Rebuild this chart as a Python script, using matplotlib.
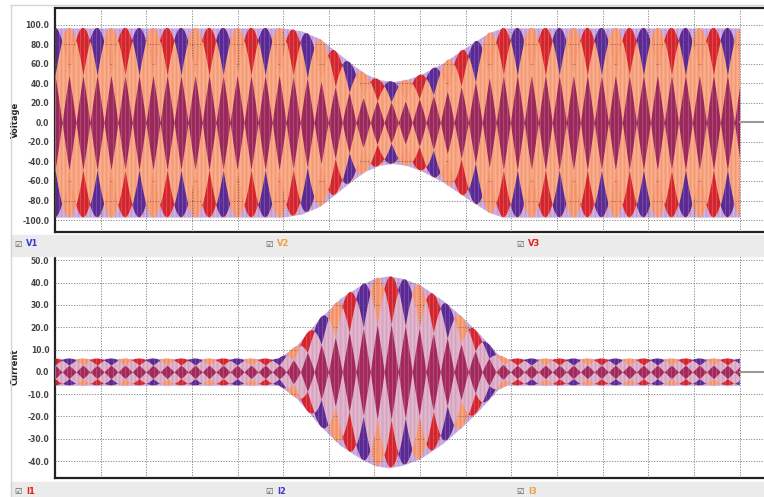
import numpy as np
import matplotlib
matplotlib.use("Agg")
import matplotlib.pyplot as plt
from matplotlib.patches import Rectangle
from matplotlib.lines import Line2D
from matplotlib.collections import LineCollection

# ---------------- data ----------------
# time axis in grid units (one dotted vertical grid line per unit)
t_end = 15.0
# voltage amplitude envelope (peak V) at read time points
v_env_t = [0.0, 5.0, 5.4, 5.8, 6.1, 6.5, 6.8, 7.1, 7.4, 7.7, 8.0, 8.5, 9.0, 9.5, 9.8, 15.0]
v_env_a = [97, 97, 94, 86, 75, 60, 50, 44, 42, 44, 49, 61, 77, 92, 97, 97]
# current amplitude envelope (peak A)
i_env_t = [0.0, 4.9, 5.3, 5.8, 6.25, 6.7, 7.0, 7.3, 7.6, 8.0, 8.5, 8.9, 9.3, 9.7, 9.9, 15.0]
i_env_a = [6, 6, 12, 24, 33, 39, 42, 43, 42, 39, 32, 25, 17, 8, 6, 6]
beat_per_unit = 0.543          # beat rate of the sampled three-phase waveform
phase_deg = [0, 120, 240]      # phase shift of the three phases
stripe_step = 0.045            # spacing of the drawn sample strokes (grid units)

v_names = ["V1", "V2", "V3"]
i_names = ["I1", "I2", "I3"]
v_ticks = [100, 80, 60, 40, 20, 0, -20, -40, -60, -80, -100]
i_ticks = [50, 40, 30, 20, 10, 0, -10, -20, -30, -40]

# ---------------- style ----------------
W, H = 764, 497
fig = plt.figure(figsize=(W / 100, H / 100), dpi=100, facecolor="white")


def fx(px):
    return px / W


def fy(py):
    return 1 - py / H


unit_px = 45.64
left_px = 55
right_px = left_px + 16 * unit_px

ax1 = fig.add_axes([fx(left_px), fy(232), fx(right_px - left_px), fy(8) - fy(232)])
ax2 = fig.add_axes([fx(left_px), fy(478), fx(right_px - left_px), fy(255) - fy(478)])

t = np.linspace(0, t_end, 5000)


def draw_waveform(ax, env_t, env_a, single_cols, two_col, three_col, edge_col):
    env = np.interp(t, env_t, env_a)
    ph = np.deg2rad(np.array(phase_deg))[:, None]
    bands = env[None, :] * np.abs(np.cos(2 * np.pi * beat_per_unit * t[None, :] + ph))
    s = np.sort(bands, axis=0)
    arg = np.argmax(bands, axis=0)
    ax.fill_between(t, -env, env, color=edge_col, lw=0, zorder=1)
    ax.fill_between(t, -s[2], s[2], color=two_col, lw=0, zorder=2)
    for k in range(3):
        m = arg == k
        m = m | np.roll(m, 1) | np.roll(m, -1)
        ax.fill_between(t, -s[2], s[2], where=m, color=single_cols[k], lw=0, zorder=2)
    ax.fill_between(t, -s[1], s[1], color=two_col, lw=0, zorder=3)
    ax.fill_between(t, -s[0], s[0], color=three_col, lw=0, zorder=4)
    # vertical sample strokes give the striped texture
    ts = np.arange(0, t_end + 1e-9, stripe_step)
    es = np.interp(ts, env_t, env_a)
    segs_light = [[(x, -e), (x, e)] for x, e in zip(ts[::2], es[::2])]
    segs_dark = [[(x, -e), (x, e)] for x, e in zip(ts[1::2], es[1::2])]
    ax.add_collection(LineCollection(segs_light, colors="white", linewidths=0.5,
                                     alpha=0.22, zorder=5))
    ax.add_collection(LineCollection(segs_dark, colors="#7a1040", linewidths=0.4,
                                     alpha=0.12, zorder=5))


draw_waveform(ax1, v_env_t, v_env_a,
              ["#5b2a96", "#f79a72", "#d8262e"], "#f8a47e", "#9c2a5c", "#c8a8e0")
draw_waveform(ax2, i_env_t, i_env_a,
              ["#d8262e", "#5b2a96", "#f79a72"], "#dcaec8", "#a42a5c", "#c8a8e0")

for ax, ticks, ylim, lab in [(ax1, v_ticks, (-112.3, 117.4), "Voltage"),
                             (ax2, i_ticks, (-47.6, 52.4), "Current")]:
    ax.set_xlim(0, 16)
    ax.set_ylim(*ylim)
    ax.plot([t_end, 16], [0, 0], color="#9a9a9a", lw=1.5, zorder=6)
    ax.set_xticks(np.arange(1, 16))
    ax.set_xticklabels([])
    ax.set_yticks(ticks)
    ax.set_yticklabels([f"{v:.1f}" for v in ticks], fontsize=5.5,
                       fontweight="bold", color="#444444")
    ax.tick_params(length=0, pad=4)
    ax.grid(True, color="#555555", linestyle=(0, (1.2, 1.5)), lw=0.7, alpha=0.7)
    ax.set_axisbelow(False)
    for g in ax.get_xgridlines() + ax.get_ygridlines():
        g.set_zorder(7)
    for sp in ax.spines.values():
        sp.set_color("#222222")
        sp.set_linewidth(1.6)
    ax.set_facecolor("white")
    ax.set_ylabel(lab, fontsize=6, fontweight="bold", color="#222222")
    ax.yaxis.set_label_coords((20 - left_px) / (right_px - left_px), 0.5)

# legend strips
fig.patches.append(Rectangle((fx(11), fy(256)), 1, fy(235) - fy(256), transform=fig.transFigure,
                             color="#ebebeb", zorder=0))
fig.patches.append(Rectangle((fx(11), 0), 1, fy(482), transform=fig.transFigure,
                             color="#ebebeb", zorder=0))
# panel borders
fig.lines.append(Line2D([fx(11), fx(11)], [0, fy(5)], transform=fig.transFigure,
                        color="#d4d4d4", lw=1))
fig.lines.append(Line2D([fx(11), 1], [fy(5), fy(5)], transform=fig.transFigure,
                        color="#d4d4d4", lw=1))

v_cols = ["#3a3ad0", "#f0a040", "#e02020"]
i_cols = ["#e02020", "#3a3ad0", "#f0a040"]
for names, cols, ypx in [(v_names, v_cols, 244), (i_names, i_cols, 491)]:
    for k, (nm, c) in enumerate(zip(names, cols)):
        xpx = 18 + k * 251
        fig.text(fx(xpx), fy(ypx), "\u2611", fontsize=6, color="#555555",
                 ha="center", va="center")
        fig.text(fx(xpx + 8), fy(ypx), nm, fontsize=6, color=c, fontweight="bold",
                 ha="left", va="center")

fig.savefig("out.png", dpi=100, facecolor=fig.get_facecolor())
